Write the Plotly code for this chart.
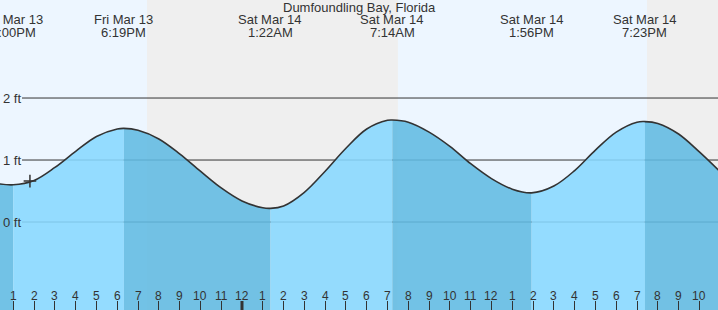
import plotly.graph_objects as go

title_text = "Dumfoundling Bay, Florida"

# hours relative to Sat Mar 14 00:00
tide_hours = [-12, -11, -10, -9, -8, -7, -6, -5.68, -5, -4, -3, -2, -1, 0, 1, 1.37,
              2, 3, 4, 5, 6, 7, 7.23, 8, 9, 10, 11, 12, 13, 13.93,
              15, 16, 17, 18, 19, 19.38, 20, 21, 22, 23]
tide_ft = [0.63, 0.60, 0.67, 0.88, 1.14, 1.38, 1.50, 1.51, 1.48, 1.34, 1.10, 0.82, 0.55, 0.34, 0.23, 0.22,
           0.26, 0.48, 0.82, 1.19, 1.50, 1.64, 1.645, 1.61, 1.45, 1.22, 0.94, 0.70, 0.53, 0.47,
           0.58, 0.83, 1.16, 1.45, 1.61, 1.62, 1.59, 1.42, 1.13, 0.81]

extreme_hours = [-11, -5.68, 1.37, 7.23, 13.93, 19.38]
extreme_day = ["Fri Mar 13", "Fri Mar 13", "Sat Mar 14", "Sat Mar 14", "Sat Mar 14", "Sat Mar 14"]
extreme_time = ["1:00PM", "6:19PM", "1:22AM", "7:14AM", "1:56PM", "7:23PM"]

night_start = [-4.57, 19.48]
night_end = [7.50, 23.5]

tick_hours = list(range(-11, 23))
tick_labels = ["1", "2", "3", "4", "5", "6", "7", "8", "9", "10", "11", "12",
               "1", "2", "3", "4", "5", "6", "7", "8", "9", "10", "11", "12",
               "1", "2", "3", "4", "5", "6", "7", "8", "9", "10"]
midnight_hour = 0

ft_ticks = [0, 1, 2]
ft_labels = ["0 ft", "1 ft", "2 ft"]

now_hour = [-10.2]
now_ft = [0.66]

X_RANGE = [-11.64, 22.896]
Y_RANGE = [-1.419, 3.581]
BASE = -1.6

DAY_BG = "#EDF6FF"
NIGHT_BG = "#EFEFEF"
LIGHT_FILL = "rgba(136,216,255,0.88)"
DARK_FILL = "rgba(97,187,226,0.88)"
INK = "#333333"
FONT = "Liberation Sans, Arial, sans-serif"

fig = go.Figure()

# fill segments split at extremes
bounds = [0] + [tide_hours.index(h) for h in extreme_hours] + [len(tide_hours) - 1]
bounds = sorted(set(bounds))
for k in range(len(bounds) - 1):
    a, b = bounds[k], bounds[k + 1]
    xs = tide_hours[a:b + 1]
    ys = tide_ft[a:b + 1]
    fig.add_trace(go.Scatter(x=xs, y=[BASE] * len(xs), mode="lines",
                             line=dict(width=0), hoverinfo="skip", showlegend=False))
    fig.add_trace(go.Scatter(x=xs, y=ys, mode="lines", fill="tonexty",
                             fillcolor=DARK_FILL if k % 2 == 0 else LIGHT_FILL,
                             line=dict(width=0, shape="spline"),
                             hoverinfo="skip", showlegend=False))

fig.add_trace(go.Scatter(x=tide_hours, y=tide_ft, mode="lines",
                         line=dict(color=INK, width=1.6, shape="spline"),
                         showlegend=False))
fig.add_trace(go.Scatter(x=now_hour, y=now_ft, mode="markers",
                         marker=dict(symbol="cross-thin", size=9,
                                     line=dict(color=INK, width=1.5)),
                         showlegend=False))

shapes = []
for s, e in zip(night_start, night_end):
    shapes.append(dict(type="rect", xref="x", yref="paper", x0=s, x1=e, y0=0, y1=1,
                       fillcolor=NIGHT_BG, line=dict(width=0), layer="below"))
for v in ft_ticks:
    shapes.append(dict(type="line", xref="paper", yref="y", x0=22 / 718, x1=1, y0=v, y1=v,
                       line=dict(color=INK, width=1), layer="below"))
shapes.append(dict(type="line", xref="x", yref="paper", x0=midnight_hour, x1=midnight_hour,
                   y0=0, y1=9 / 310, line=dict(color=INK, width=3)))

annotations = []
annotations.append(dict(text=title_text, xref="paper", yref="paper", x=0.5, y=1 - 8 / 310,
                        yanchor="middle", xanchor="center", showarrow=False,
                        font=dict(family=FONT, size=13, color=INK)))
for h, d, t in zip(extreme_hours, extreme_day, extreme_time):
    annotations.append(dict(text=d, xref="x", yref="paper", x=h, y=1 - 19.5 / 310,
                            yanchor="middle", xanchor="center", showarrow=False,
                            font=dict(family=FONT, size=13, color=INK)))
    annotations.append(dict(text=t, xref="x", yref="paper", x=h, y=1 - 32 / 310,
                            yanchor="middle", xanchor="center", showarrow=False,
                            font=dict(family=FONT, size=13, color=INK)))
for v, lab in zip(ft_ticks, ft_labels):
    annotations.append(dict(text=lab, xref="paper", yref="y", x=1 / 718, y=v,
                            yanchor="middle", xanchor="left", showarrow=False,
                            font=dict(family=FONT, size=13, color=INK)))
for h, lab in zip(tick_hours, tick_labels):
    annotations.append(dict(text=lab, xref="x", yref="paper", x=h, y=(310 - 295.5) / 310,
                            yanchor="middle", xanchor="center", showarrow=False,
                            font=dict(family=FONT, size=12, color=INK)))

fig.update_layout(
    width=718, height=310,
    margin=dict(l=0, r=0, t=0, b=0),
    paper_bgcolor=DAY_BG, plot_bgcolor=DAY_BG,
    showlegend=False,
    shapes=shapes, annotations=annotations,
    xaxis=dict(range=X_RANGE, showgrid=False, zeroline=False, showline=False,
               tickmode="array", tickvals=tick_hours, ticks="inside", ticklen=9,
               tickwidth=1, tickcolor=INK, showticklabels=False, fixedrange=True),
    yaxis=dict(range=Y_RANGE, showgrid=False, zeroline=False, showline=False,
               showticklabels=False, ticks="", fixedrange=True),
)

fig.write_html("out.html")
